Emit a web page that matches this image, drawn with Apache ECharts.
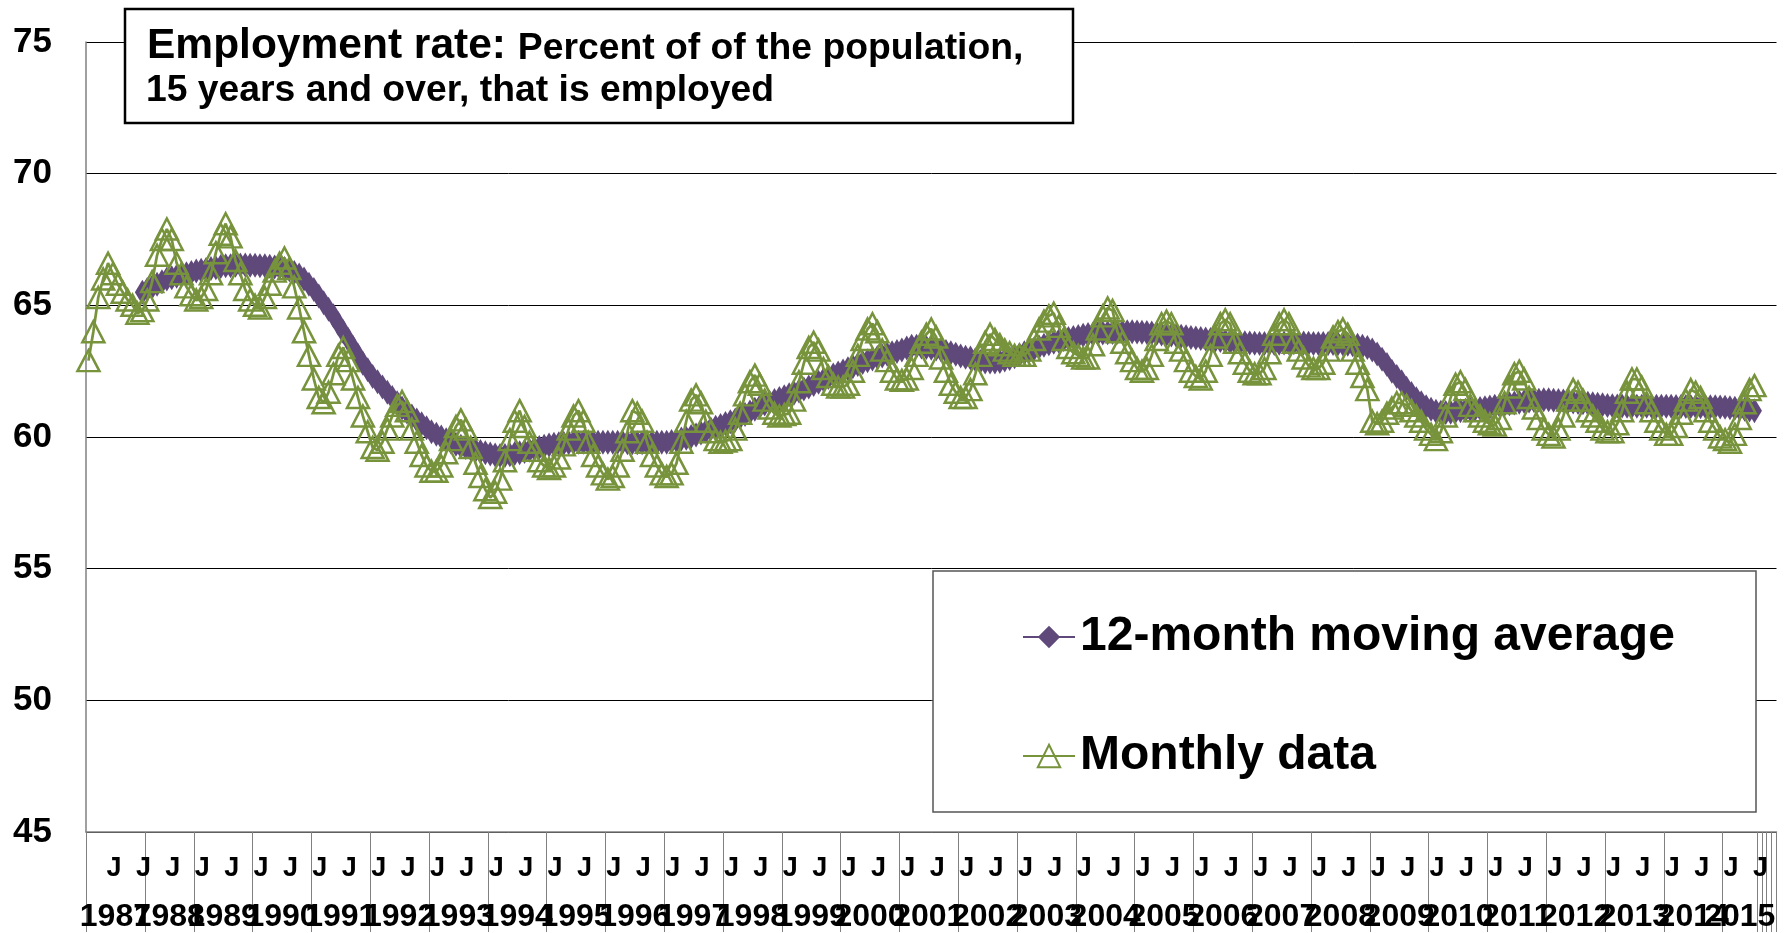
<!DOCTYPE html>
<html>
<head>
<meta charset="utf-8">
<title>Employment rate</title>
<script src="https://cdn.jsdelivr.net/npm/echarts@6/dist/echarts.min.js"></script>
<style>
html, body {margin:0; padding:0; background:#fff;}
#main {width:1784px; height:933px;}
</style>
</head>
<body>
<div id="main"></div>
<script>
// monthly data (first point = March 1987)
var m1987 = [62.9, 64.0, 65.3, 66.0, 66.6, 66.2, 65.8, 65.5, 65.2, 65.0]; // Mar-Dec
var m1988 = [64.7, 64.8, 65.2, 65.9, 66.9, 67.5, 67.9, 67.5, 66.6, 66.2, 65.7, 65.4];
var m1989 = [65.2, 65.3, 65.6, 66.2, 67.0, 67.7, 68.1, 67.6, 66.7, 66.2, 65.6, 65.2];
var m1990 = [65.0, 64.9, 65.3, 65.8, 66.3, 66.6, 66.8, 66.4, 65.7, 64.9, 64.0, 63.1];
var m1991 = [62.2, 61.5, 61.3, 61.7, 62.4, 63.1, 63.4, 62.9, 62.2, 61.5, 60.8, 60.2];
var m1992 = [59.6, 59.5, 59.8, 60.3, 60.8, 61.2, 61.35, 61.0, 60.3, 59.8, 59.3, 58.9];
var m1993 = [58.7, 58.7, 58.9, 59.4, 59.9, 60.4, 60.65, 60.3, 59.6, 59.0, 58.5, 58.0];
var m1994 = [57.7, 57.9, 58.4, 59.1, 59.9, 60.6, 61.0, 60.4, 59.8, 59.5, 59.1, 58.9];
var m1995 = [58.8, 58.9, 59.2, 59.7, 60.3, 60.8, 61.0, 60.6, 59.8, 59.3, 58.9, 58.6];
var m1996 = [58.4, 58.5, 58.9, 59.5, 60.2, 61.0, 60.9, 60.6, 59.8, 59.3, 58.9, 58.6];
var m1997 = [58.5, 58.6, 59.0, 59.8, 60.6, 61.4, 61.6, 61.3, 60.6, 60.2, 59.9, 59.8];
var m1998 = [59.85, 59.9, 60.3, 60.9, 61.6, 62.1, 62.35, 62.0, 61.4, 61.1, 60.9, 60.8];
var m1999 = [60.85, 60.9, 61.4, 62.1, 62.8, 63.4, 63.6, 63.3, 62.6, 62.3, 62.0, 61.9];
var m2000 = [61.9, 62.0, 62.5, 63.1, 63.7, 64.1, 64.3, 64.0, 63.3, 62.9, 62.5, 62.2];
var m2001 = [62.15, 62.2, 62.6, 63.1, 63.6, 63.9, 64.1, 63.8, 63.0, 62.5, 62.0, 61.7];
var m2002 = [61.5, 61.5, 61.8, 62.4, 63.1, 63.6, 63.9, 63.7, 63.5, 63.3, 63.2, 63.1];
var m2003 = [63.1, 63.1, 63.3, 63.7, 64.1, 64.4, 64.6, 64.7, 64.2, 63.7, 63.4, 63.2];
var m2004 = [63.1, 63.0, 63.0, 63.5, 64.1, 64.6, 64.9, 64.8, 64.0, 63.6, 63.2, 62.9];
var m2005 = [62.6, 62.5, 62.6, 63.1, 63.7, 64.3, 64.4, 64.3, 63.6, 63.3, 62.9, 62.5];
var m2006 = [62.3, 62.2, 62.5, 63.1, 63.8, 64.3, 64.45, 64.3, 63.6, 63.2, 62.8, 62.5];
var m2007 = [62.4, 62.4, 62.6, 63.2, 63.9, 64.3, 64.45, 64.3, 63.6, 63.3, 63.0, 62.7];
var m2008 = [62.6, 62.6, 62.8, 63.3, 63.8, 64.0, 64.1, 63.9, 63.3, 62.8, 62.3, 61.8];
var m2009 = [60.6, 60.5, 60.6, 60.9, 61.1, 61.3, 61.3, 61.2, 61.0, 60.8, 60.6, 60.3];
var m2010 = [60.1, 59.9, 60.2, 60.8, 61.5, 62.0, 62.1, 61.8, 61.2, 61.0, 60.8, 60.6];
var m2011 = [60.5, 60.45, 60.7, 61.3, 61.9, 62.4, 62.5, 62.2, 61.5, 61.1, 60.7, 60.3];
var m2012 = [60.1, 60.0, 60.3, 60.8, 61.4, 61.8, 61.7, 61.4, 61.0, 60.8, 60.6, 60.3];
var m2013 = [60.2, 60.2, 60.5, 61.0, 61.7, 62.2, 62.2, 61.9, 61.3, 61.0, 60.6, 60.3];
var m2014 = [60.1, 60.1, 60.4, 60.9, 61.4, 61.8, 61.7, 61.5, 61.0, 60.6, 60.3, 60.0];
var m2015 = [59.9, 59.8, 60.1, 60.7, 61.3, 61.8, 61.95]; // Jan-Jul

// 12-month moving average (first point = February 1988)
var a1988 = [65.5, 65.6, 65.7, 65.8, 65.9, 66.0, 66.05, 66.1, 66.15, 66.2, 66.25]; // Feb-Dec
var a1989 = [66.3, 66.33, 66.36, 66.4, 66.43, 66.47, 66.5, 66.5, 66.52, 66.53, 66.53, 66.52];
var a1990 = [66.52, 66.5, 66.5, 66.48, 66.46, 66.44, 66.4, 66.35, 66.25, 66.15, 66.0, 65.8];
var a1991 = [65.6, 65.35, 65.1, 64.85, 64.6, 64.3, 64.0, 63.7, 63.4, 63.1, 62.8, 62.55];
var a1992 = [62.3, 62.1, 61.9, 61.7, 61.5, 61.3, 61.1, 60.95, 60.8, 60.65, 60.5, 60.35];
var a1993 = [60.2, 60.1, 60.0, 59.9, 59.8, 59.72, 59.65, 59.6, 59.55, 59.5, 59.45, 59.4];
var a1994 = [59.35, 59.32, 59.3, 59.3, 59.33, 59.37, 59.4, 59.45, 59.5, 59.55, 59.6, 59.65];
var a1995 = [59.7, 59.72, 59.74, 59.76, 59.78, 59.8, 59.8, 59.8, 59.8, 59.8, 59.8, 59.8];
var a1996 = [59.8, 59.8, 59.8, 59.8, 59.78, 59.78, 59.78, 59.78, 59.78, 59.78, 59.8, 59.8];
var a1997 = [59.8, 59.83, 59.87, 59.92, 59.95, 60.02, 60.08, 60.15, 60.22, 60.3, 60.37, 60.44];
var a1998 = [60.51, 60.58, 60.65, 60.75, 60.85, 60.95, 61.05, 61.15, 61.25, 61.32, 61.39, 61.46];
var a1999 = [61.53, 61.6, 61.67, 61.75, 61.82, 61.9, 61.99, 62.08, 62.17, 62.26, 62.35, 62.43];
var a2000 = [62.51, 62.59, 62.67, 62.75, 62.83, 62.9, 62.96, 63.02, 63.08, 63.14, 63.2, 63.25];
var a2001 = [63.3, 63.38, 63.45, 63.45, 63.42, 63.4, 63.37, 63.34, 63.3, 63.25, 63.2, 63.14];
var a2002 = [63.08, 63.03, 63.0, 62.93, 62.87, 62.85, 62.85, 62.85, 62.87, 62.92, 62.98, 63.05];
var a2003 = [63.12, 63.2, 63.28, 63.35, 63.42, 63.48, 63.54, 63.6, 63.65, 63.7, 63.74, 63.78];
var a2004 = [63.82, 63.86, 63.89, 63.91, 63.93, 63.95, 63.96, 63.97, 63.98, 63.99, 64.0, 64.0];
var a2005 = [63.99, 63.98, 63.97, 63.95, 63.93, 63.91, 63.89, 63.87, 63.85, 63.83, 63.81, 63.78];
var a2006 = [63.76, 63.74, 63.72, 63.7, 63.68, 63.66, 63.64, 63.62, 63.6, 63.59, 63.58, 63.57];
var a2007 = [63.56, 63.55, 63.55, 63.55, 63.55, 63.56, 63.57, 63.57, 63.58, 63.58, 63.57, 63.56];
var a2008 = [63.55, 63.55, 63.55, 63.55, 63.55, 63.54, 63.53, 63.52, 63.5, 63.48, 63.45, 63.4];
var a2009 = [63.3, 63.15, 62.95, 62.75, 62.5, 62.3, 62.1, 61.85, 61.65, 61.45, 61.3, 61.15];
var a2010 = [61.05, 60.98, 60.94, 60.93, 60.94, 60.97, 61.0, 61.02, 61.04, 61.06, 61.08, 61.11];
var a2011 = [61.14, 61.17, 61.2, 61.23, 61.26, 61.29, 61.32, 61.35, 61.37, 61.39, 61.4, 61.41];
var a2012 = [61.41, 61.4, 61.39, 61.37, 61.35, 61.33, 61.31, 61.3, 61.28, 61.26, 61.24, 61.22];
var a2013 = [61.2, 61.19, 61.18, 61.18, 61.17, 61.17, 61.17, 61.17, 61.17, 61.17, 61.17, 61.17];
var a2014 = [61.17, 61.17, 61.16, 61.16, 61.16, 61.16, 61.16, 61.15, 61.15, 61.15, 61.15, 61.14];
var a2015 = [61.13, 61.11, 61.09, 61.07, 61.05, 61.03, 61.0]; // Jan-Jul

// year groups on the category axis (index of first month of each group)
var yearNames = ['1987','1988','1989','1990','1991','1992','1993','1994','1995','1996',
  '1997','1998','1999','2000','2001','2002','2003','2004','2005','2006','2007','2008',
  '2009','2010','2011','2012','2013','2014','2015'];
var yearStarts = [0, 12, 22, 34, 46, 58, 70, 82, 94, 106, 118, 130, 142, 154, 166, 178,
  190, 202, 214, 226, 238, 250, 262, 274, 286, 298, 310, 322, 334];
var groupEnd = 341;
var extraTicks = [342, 343, 344, 345];

var monthly = [].concat(m1987, m1988, m1989, m1990, m1991, m1992, m1993, m1994, m1995,
  m1996, m1997, m1998, m1999, m2000, m2001, m2002, m2003, m2004, m2005, m2006, m2007,
  m2008, m2009, m2010, m2011, m2012, m2013, m2014, m2015);
var movingAvg = [null, null, null, null, null, null, null, null, null, null, null].concat(
  a1988, a1989, a1990, a1991, a1992, a1993, a1994, a1995, a1996, a1997, a1998, a1999,
  a2000, a2001, a2002, a2003, a2004, a2005, a2006, a2007, a2008, a2009, a2010, a2011,
  a2012, a2013, a2014, a2015);

var nCats = 345;
var cats = [];
for (var i = 0; i < nCats; i++) {
  var k = 2 + i;
  cats.push((1987 + Math.floor(k / 12)) + '-' + (k % 12 + 1));
}
// year label positions, split in two alternating sets so neighbours never collide
var yearCenters = [];
var centersEven = [];
var centersOdd = [];
var yearTicks = [];
for (var j = 0; j < yearStarts.length; j++) {
  var e = j < yearStarts.length - 1 ? yearStarts[j + 1] : groupEnd;
  var c = (yearStarts[j] + e) / 2;
  yearCenters.push(c);
  if (j % 2 === 0) centersEven.push(c); else centersOdd.push(c);
  yearTicks.push(yearStarts[j]);
}
yearTicks.push(groupEnd);
yearTicks = yearTicks.concat(extraTicks);

function yearLabel(v) {
  var p = yearCenters.indexOf(v);
  return p >= 0 ? yearNames[p] : '';
}

var purple = '#5F497A';
var green = '#77933C';
var fontMain = '"Liberation Sans", Arial, sans-serif';
var fontNarrow = '"Liberation Sans Narrow", "Arial Narrow", "Liberation Sans", sans-serif';

function yearAxis(values, withTicks) {
  return {
    type: 'value',
    min: 0,
    max: nCats,
    position: 'bottom',
    axisLine: {show: false},
    axisTick: {show: withTicks, customValues: yearTicks, length: 100, inside: false,
      lineStyle: {color: '#808080', width: 1}},
    axisLabel: {
      customValues: values,
      showMinLabel: true,
      showMaxLabel: true,
      hideOverlap: false,
      formatter: yearLabel,
      margin: 69,
      fontFamily: fontNarrow, fontWeight: 'bold', fontSize: 32, color: '#000'
    },
    splitLine: {show: false}
  };
}

var myChart = echarts.init(document.getElementById('main'));
var option = {
  animation: false,
  backgroundColor: '#fff',
  grid: {left: 86, right: 7.5, top: 42, bottom: 100},
  legend: {
    orient: 'vertical',
    left: 1022,
    top: 613,
    padding: 0,
    itemWidth: 52,
    itemHeight: 28,
    itemGap: 71,
    z: 20,
    textStyle: {fontFamily: fontMain, fontWeight: 'bold', fontSize: 48, color: '#000'},
    data: ['12-month moving average', 'Monthly data']
  },
  graphic: [
    {type: 'rect', z: 10, shape: {x: 125, y: 9, width: 948, height: 114},
      style: {fill: '#fff', stroke: '#000', lineWidth: 2.5}},
    {type: 'text', z: 11, x: 147, y: 46,
      style: {
        text: '{a|Employment rate: }{b|Percent of of the population,}',
        verticalAlign: 'middle',
        rich: {
          a: {fontFamily: fontMain, fontWeight: 'bold', fontSize: 42.5, fill: '#000', verticalAlign: 'bottom'},
          b: {fontFamily: fontMain, fontWeight: 'bold', fontSize: 37.3, fill: '#000', verticalAlign: 'bottom'}
        }
      }},
    {type: 'text', z: 11, x: 146, y: 91,
      style: {text: '15 years and over, that is employed', verticalAlign: 'middle',
        fontFamily: fontMain, fontWeight: 'bold', fontSize: 37.3, fill: '#000'}},
    {type: 'rect', z: 10, shape: {x: 933, y: 571, width: 823, height: 241},
      style: {fill: '#fff', stroke: '#555', lineWidth: 1.5}}
  ],
  xAxis: [
    {
      type: 'category',
      data: cats,
      boundaryGap: true,
      axisLine: {show: true, lineStyle: {color: '#808080', width: 1.5}},
      axisTick: {show: false},
      axisLabel: {
        interval: function (idx) { var m = (2 + idx) % 12; return m === 0 || m === 6; },
        formatter: function () { return 'J'; },
        margin: 23,
        padding: [0, 0, 0, 12],
        fontFamily: fontNarrow, fontWeight: 'bold', fontSize: 27, color: '#000'
      },
      splitLine: {show: false}
    },
    yearAxis(centersEven, true),
    yearAxis(centersOdd, false)
  ],
  yAxis: {
    type: 'value',
    min: 45,
    max: 75,
    interval: 5,
    axisLine: {show: true, lineStyle: {color: '#808080', width: 1.5}},
    axisTick: {show: false},
    axisLabel: {margin: 34, fontFamily: fontMain, fontWeight: 'bold', fontSize: 35, color: '#000'},
    splitLine: {lineStyle: {color: '#000', width: 1}}
  },
  series: [
    {
      name: '12-month moving average',
      type: 'line',
      xAxisIndex: 0,
      data: movingAvg,
      symbol: 'diamond',
      symbolSize: [15, 25],
      showAllSymbol: true,
      z: 2,
      lineStyle: {color: purple, width: 3},
      itemStyle: {color: purple}
    },
    {
      name: 'Monthly data',
      type: 'line',
      xAxisIndex: 0,
      data: monthly,
      symbol: 'triangle',
      symbolSize: [22, 21],
      showAllSymbol: true,
      z: 3,
      lineStyle: {color: green, width: 2.75},
      itemStyle: {color: 'rgba(255,255,255,0)', borderColor: green, borderWidth: 2.5}
    }
  ]
};
myChart.setOption(option);
</script>
</body>
</html>
